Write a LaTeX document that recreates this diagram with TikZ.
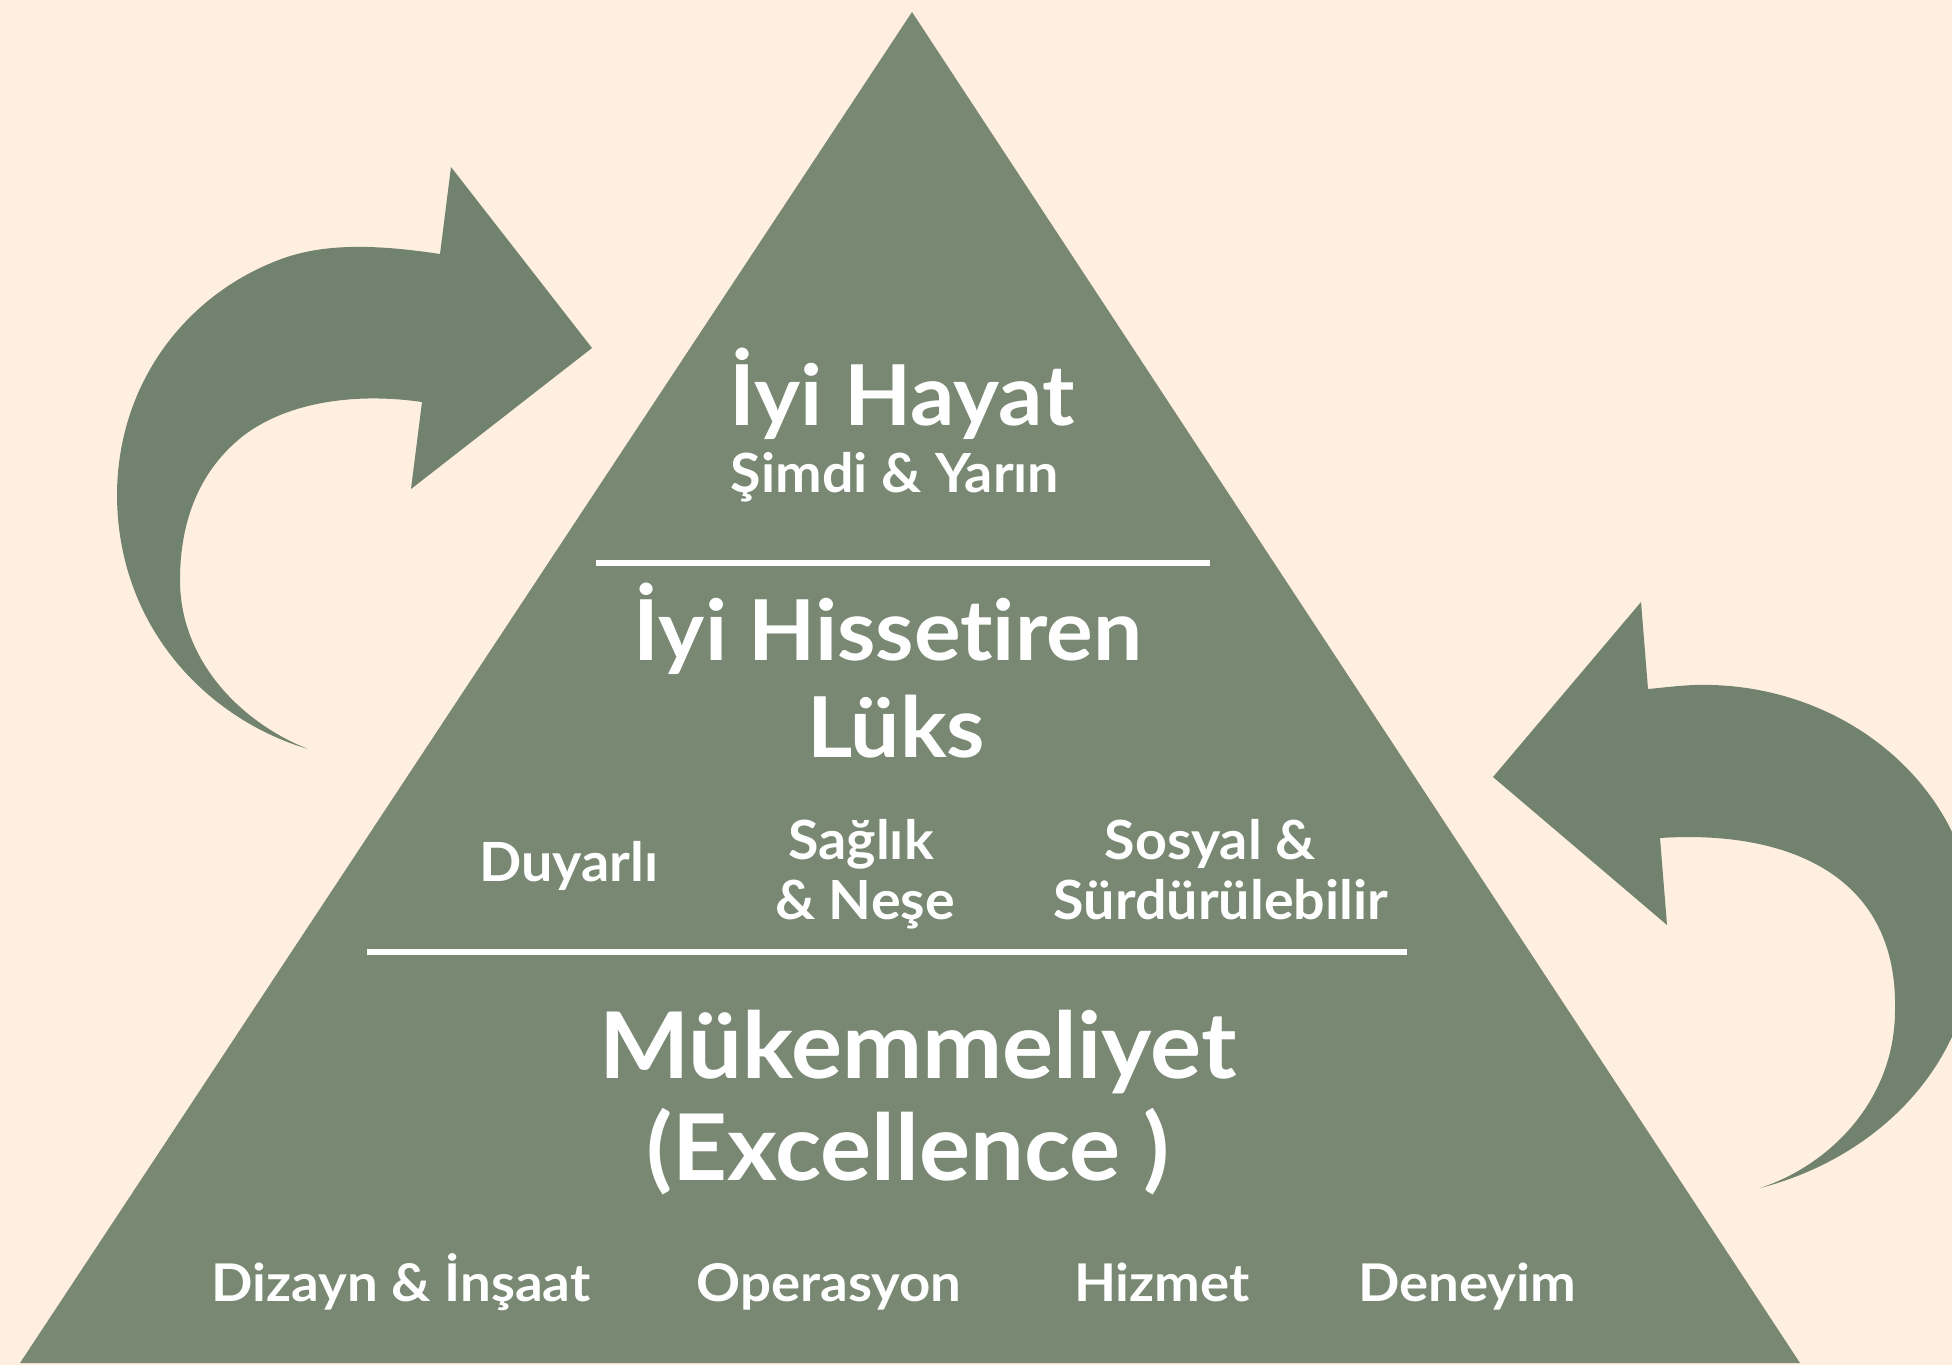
\documentclass[tikz,border=0pt]{standalone}
\usepackage{fontspec}
\setmainfont{Lato}[Ligatures=NoCommon]
\newfontfamily\titlefam{Lato}[Ligatures=NoCommon, FakeStretch=1.04]
\newfontfamily\itemfam{Lato}[Ligatures=NoCommon, FakeStretch=1.03]
\newfontfamily\basefam{Lato}[Ligatures=NoCommon, FakeStretch=1.05]
\usetikzlibrary{positioning}

\definecolor{cream}{HTML}{FFEFE0}
\definecolor{sage}{HTML}{788872}
\definecolor{sagedark}{HTML}{71826E}

\tikzset{
  lbl/.style={text=white, anchor=base, inner sep=0pt},
  titlefont/.style={lbl, font=\titlefam\fontsize{42}{42}\selectfont\bfseries},
  mainfont/.style={lbl, font=\titlefam\fontsize{46}{46}\selectfont\bfseries},
  subfont/.style={lbl, font=\itemfam\fontsize{27}{27}\selectfont\bfseries},
  itemfont/.style={lbl, font=\itemfam\fontsize{27}{27}\selectfont\bfseries},
  basefont/.style={lbl, font=\basefam\fontsize{26}{26}\selectfont\bfseries},
  divider/.style={white, line width=3pt},
  loop arrow/.style={fill=sagedark},
}

\begin{document}
\begin{tikzpicture}[x=0.5pt,y=-0.5pt]
  \useasboundingbox (0,0) rectangle (1952,1365);
  \fill[cream] (0,0) rectangle (1952,1365);

  % pyramid
  \coordinate (apex) at (912,12);
  \coordinate (bl) at (20,1363);
  \coordinate (br) at (1800,1363);
  \fill[sage] (apex) -- (br) -- (bl) -- cycle;

  % left arrow
  \fill[loop arrow] (308,749) .. controls (210,720) and (118,630) .. (117,496)
    .. controls (117,380) and (190,290) .. (287,257)
    .. controls (330,243) and (380,245) .. (440,254)
    -- (451,167) -- (592,348) -- (411,489) -- (422,402)
    .. controls (360,393) and (290,400) .. (243,436)
    .. controls (200,470) and (180,520) .. (180,580)
    .. controls (180,660) and (240,722) .. (308,749) -- cycle;

  % right arrow
  \begin{scope}
    \clip (0,0) rectangle (1952,1365);
    \fill[loop arrow] (1760,1188) .. controls (1870,1160) and (1975,1070) .. (1975,930)
      .. controls (1975,800) and (1860,690) .. (1713,685)
      .. controls (1690,684) and (1670,687) .. (1648,689)
      -- (1641,602) -- (1493,777) -- (1667,925) -- (1660,838)
      .. controls (1780,830) and (1898,870) .. (1895,1010)
      .. controls (1895,1100) and (1830,1165) .. (1760,1188) -- cycle;
  \end{scope}

  % dividers
  \coordinate (d1l) at (596,563);
  \coordinate (d1r) at (1210,563);
  \coordinate (d2l) at (367,952);
  \coordinate (d2r) at (1407,952);
  \draw[divider] (d1l) -- (d1r);
  \draw[divider] (d2l) -- (d2r);

  % top level
  \node[titlefont] (hayat) at (902,425) {İyi Hayat};
  \node[subfont] (simdi) at (895,492) {Şimdi \& Yarın};

  % middle level
  \node[titlefont] (hiss) at (888,660) {İyi Hissetiren};
  \node[titlefont] (luks) at (896,757) {Lüks};
  \node[itemfont] (duyarli) at (569,881) {Duyarlı};
  \node[itemfont] (saglik) at (861,859) {Sağlık};
  \node[itemfont] (nese) at (865,919) {\& Neşe};
  \node[itemfont] (sosyal) at (1210,859) {Sosyal \&};
  \node[itemfont] (surdur) at (1221,919) {Sürdürülebilir};

  % base level
  \node[mainfont] (mukem) at (918,1078) {Mükemmeliyet};
  \node[mainfont] (excel) at (908,1180) {(Excellence )};
  \node[basefont] (dizayn) at (401,1301) {Dizayn \& İnşaat};
  \node[basefont] (oper) at (829,1301) {Operasyon};
  \node[basefont] (hizmet) at (1162,1301) {Hizmet};
  \node[basefont] (deneyim) at (1467,1301) {Deneyim};
\end{tikzpicture}
\end{document}
